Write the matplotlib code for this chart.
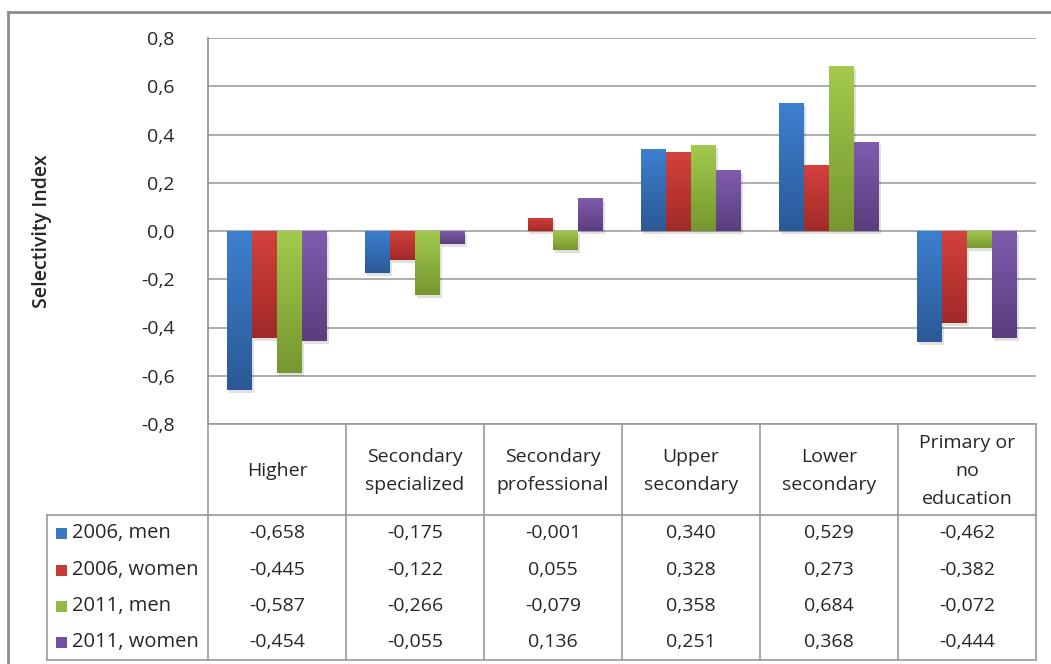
import numpy as np
import matplotlib
matplotlib.use("Agg")
import matplotlib.pyplot as plt
from matplotlib.colors import LinearSegmentedColormap
from matplotlib.patches import Rectangle
from matplotlib.lines import Line2D

categories = ["Higher", "Secondary\nspecialized", "Secondary\nprofessional",
              "Upper\nsecondary", "Lower\nsecondary", "Primary or\nno\neducation"]
series_names = ["2006, men", "2006, women", "2011, men", "2011, women"]
men_2006 = [-0.658, -0.175, -0.001, 0.340, 0.529, -0.462]
women_2006 = [-0.445, -0.122, 0.055, 0.328, 0.273, -0.382]
men_2011 = [-0.587, -0.266, -0.079, 0.358, 0.684, -0.072]
women_2011 = [-0.454, -0.055, 0.136, 0.251, 0.368, -0.444]
series = [men_2006, women_2006, men_2011, women_2011]
yticks = [-0.8, -0.6, -0.4, -0.2, 0.0, 0.2, 0.4, 0.6, 0.8]

grad = [("#3d80d0", "#2b5996"), ("#d4413d", "#a02a28"),
        ("#a3ca4d", "#76972f"), ("#805cae", "#5a3d7e")]
key_colors = ["#3a78c3", "#c83a36", "#92bb45", "#7252a0"]

FONT = ["Open Sans", "DejaVu Sans"]
plt.rcParams['font.family'] = FONT
TXT = "#262626"

W, H = 1051, 664
fig = plt.figure(figsize=(W / 100, H / 100), dpi=100)

def fx(x):
    return x / W

def fy(y):
    return 1 - y / H

# outer frame
fig.add_artist(Line2D([fx(8), fx(8)], [fy(12), 0], color="#8c8c8c", lw=2, transform=fig.transFigure))
fig.add_artist(Line2D([fx(8), 1], [fy(12), fy(12)], color="#8c8c8c", lw=2, transform=fig.transFigure))

L, R, T, B = 208, 1036, 38, 424
ax = fig.add_axes([fx(L), fy(B), fx(R) - fx(L), fy(T) - fy(B)])
ax.set_ylim(-0.8, 0.8)
ax.set_xlim(0, len(categories))
ax.set_yticks(yticks)
ax.set_yticklabels([f"{v:.1f}".replace(".", ",") for v in yticks], fontsize=14, color=TXT)
ax.tick_params(axis="y", length=0, pad=24)
ax.set_xticks([])
for s in ["top", "right", "bottom"]:
    ax.spines[s].set_visible(False)
ax.spines["left"].set_color("#8c8c8c")
ax.spines["left"].set_linewidth(1.2)
ax.grid(axis="y", color="#a0a0a0", lw=1.2)
ax.set_axisbelow(True)
ax.set_ylabel("Selectivity Index", fontsize=14, fontweight="semibold", color=TXT, labelpad=0)
ax.yaxis.set_label_coords((52 - L) / (R - L), 0.5)

n = len(series)
bw = 0.181
x0 = np.arange(len(categories)) + 0.5
grad_img = np.linspace(0, 1, 256).reshape(-1, 1)
for i, vals in enumerate(series):
    xs = x0 + (i - (n - 1) / 2) * bw
    bars = ax.bar(xs, vals, width=bw, color="none", edgecolor="none", zorder=3)
    cmap = LinearSegmentedColormap.from_list(f"g{i}", [grad[i][0], grad[i][1]])
    for b in bars:
        x, y = b.get_x(), b.get_y()
        w, h = b.get_width(), b.get_height()
        y_lo, y_hi = min(y, y + h), max(y, y + h)
        if y_hi - y_lo < 1e-9:
            continue
        sh = Rectangle((x, y_lo), w, y_hi - y_lo, facecolor="#000000", alpha=0.12,
                       edgecolor="none", zorder=2,
                       transform=ax.transData + matplotlib.transforms.ScaledTranslation(2 / 100, -3 / 100, fig.dpi_scale_trans))
        ax.add_patch(sh)
        im = ax.imshow(grad_img, cmap=cmap, aspect="auto", extent=(x, x + w, y_lo, y_hi),
                       origin="upper", zorder=3, interpolation="bilinear")
        im.set_clip_path(b)
ax.set_xlim(0, len(categories))
ax.set_ylim(-0.8, 0.8)

# data table
def hline(x1, x2, y):
    fig.add_artist(Line2D([fx(x1), fx(x2)], [fy(y), fy(y)], color="#9a9a9a", lw=1.2, transform=fig.transFigure))

def vline(x, y1, y2):
    fig.add_artist(Line2D([fx(x), fx(x)], [fy(y1), fy(y2)], color="#9a9a9a", lw=1.2, transform=fig.transFigure))

cols = np.linspace(L, R, len(categories) + 1)
hline(L, R, B)
hline(47, R, 515)
hline(47, R, 660)
vline(47, 515, 660)
for c in cols:
    vline(c, B, 660)

for j, cat in enumerate(categories):
    cx = (cols[j] + cols[j + 1]) / 2
    fig.text(fx(cx), fy(471), cat, ha="center", va="center", fontsize=14, color=TXT,
             linespacing=1.75)

row_y = [533, 570, 606, 642]
for i, (name, vals) in enumerate(zip(series_names, series)):
    yy = row_y[i]
    fig.add_artist(Rectangle((fx(56), fy(yy + 5.5)), fx(11), 11 / H, facecolor=key_colors[i],
                             edgecolor="none", transform=fig.transFigure))
    fig.text(fx(72), fy(yy), name, ha="left", va="center", fontsize=14.5, color=TXT)
    for j, v in enumerate(vals):
        cx = (cols[j] + cols[j + 1]) / 2
        fig.text(fx(cx), fy(yy), f"{v:.3f}".replace(".", ","), ha="center", va="center",
                 fontsize=14, color=TXT)

fig.savefig("out.png", dpi=100, facecolor="white")
